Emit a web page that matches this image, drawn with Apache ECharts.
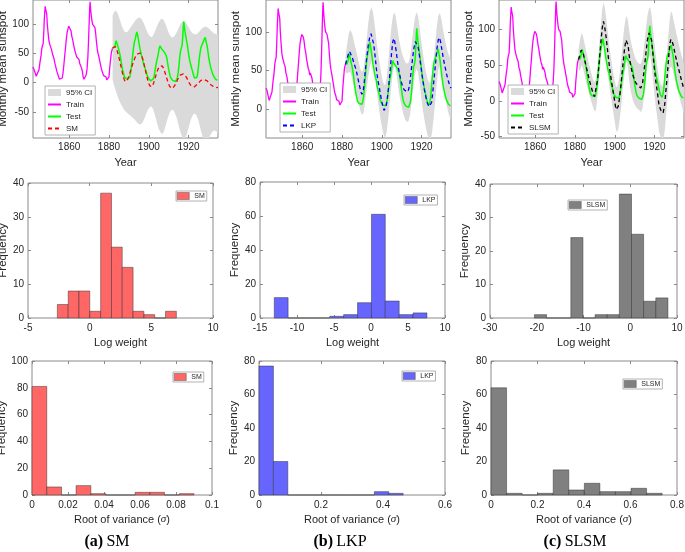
<!DOCTYPE html>
<html><head><meta charset="utf-8">
<script src="https://cdn.jsdelivr.net/npm/echarts@6/dist/echarts.min.js"></script>
<style>html,body{margin:0;padding:0;background:#fff}#c{width:685px;height:552px}</style>
</head><body><div id="c"></div>
<script>
// ---------------- DATA ----------------
const trainData = [[1841.8,27],[1842.3,24],[1842.8,18],[1843.4,11],[1843.9,10],[1844.3,13],[1844.8,22],[1845.3,35],[1845.8,45],[1846.2,58],[1846.5,63],[1846.9,67],[1847.2,85],[1847.5,110],[1847.9,131],[1848.1,127],[1848.4,125],[1848.7,118],[1849.0,100],[1849.4,85],[1849.8,72],[1850.2,66],[1850.6,64],[1851.0,58],[1851.4,55],[1851.8,47],[1852.3,42],[1852.7,35],[1853.2,28],[1853.6,22],[1854.1,16],[1854.6,11],[1855.1,6],[1855.6,4],[1856.0,4],[1856.5,8],[1856.9,17],[1857.3,30],[1857.7,45],[1858.1,58],[1858.5,73],[1858.9,85],[1859.4,93],[1859.8,97],[1860.1,97],[1860.5,94],[1860.9,89],[1861.3,80],[1861.8,73],[1862.2,65],[1862.6,59],[1863.0,53],[1863.4,50],[1863.8,44],[1864.1,47],[1864.5,46],[1864.9,40],[1865.3,33],[1865.8,32],[1866.2,25],[1866.6,20],[1867.0,10],[1867.4,6],[1867.8,6],[1868.2,9],[1868.6,14],[1869.0,25],[1869.4,45],[1869.7,70],[1870.0,100],[1870.3,128],[1870.5,139],[1870.8,125],[1871.1,115],[1871.5,105],[1871.8,100],[1872.2,100],[1872.5,97],[1872.9,95],[1873.3,85],[1873.7,70],[1874.1,58],[1874.5,50],[1874.9,45],[1875.3,38],[1875.7,32],[1876.1,25],[1876.5,20],[1876.9,17],[1877.3,12],[1877.7,11],[1878.1,13],[1878.5,10],[1878.9,5],[1879.3,4],[1879.7,5],[1880.0,10],[1880.4,27],[1880.8,40],[1881.2,52],[1881.6,57],[1881.8,59]];

const testData = [[1881.8,59],[1882.1,62],[1882.4,58],[1882.7,56],[1883.0,62],[1883.3,68],[1883.6,72],[1883.9,74],[1884.2,70],[1884.5,62],[1884.8,58],[1885.1,55],[1885.4,50],[1885.7,45],[1886.0,38],[1886.3,32],[1886.6,26],[1887.0,20],[1887.4,15],[1887.8,10],[1888.2,8],[1888.6,7],[1889.0,6],[1889.5,5],[1890.0,6],[1890.4,9],[1890.8,15],[1891.2,25],[1891.6,38],[1892.0,50],[1892.4,62],[1892.8,70],[1893.2,75],[1893.6,82],[1894.0,87],[1894.3,85],[1894.6,78],[1894.9,72],[1895.2,66],[1895.6,58],[1896.0,52],[1896.4,46],[1896.8,41],[1897.2,38],[1897.6,30],[1898.0,26],[1898.4,24],[1898.8,18],[1899.2,12],[1899.6,9],[1900.0,7],[1900.5,5],[1901.0,3],[1901.5,3],[1902.0,4],[1902.4,7],[1902.8,13],[1903.2,22],[1903.6,30],[1904.0,38],[1904.4,43],[1904.8,50],[1905.2,58],[1905.6,63],[1905.9,60],[1906.2,62],[1906.5,58],[1906.8,60],[1907.1,56],[1907.5,55],[1907.9,52],[1908.3,50],[1908.7,47],[1909.1,42],[1909.5,33],[1909.9,25],[1910.3,18],[1910.7,12],[1911.1,8],[1911.5,6],[1912.0,4],[1912.5,3],[1913.0,2],[1913.5,2],[1914.0,4],[1914.4,9],[1914.8,18],[1915.2,30],[1915.6,45],[1916.0,55],[1916.4,58],[1916.8,65],[1917.1,80],[1917.4,98],[1917.6,105],[1917.9,96],[1918.2,88],[1918.6,80],[1919.0,72],[1919.4,64],[1919.8,55],[1920.2,45],[1920.6,38],[1921.0,32],[1921.4,27],[1921.8,22],[1922.2,17],[1922.6,12],[1923.0,8],[1923.4,6],[1923.8,5],[1924.2,9],[1924.6,16],[1925.0,28],[1925.4,42],[1925.8,52],[1926.2,60],[1926.6,64],[1927.0,67],[1927.4,70],[1927.8,74],[1928.1,76],[1928.4,78],[1928.7,72],[1929.0,68],[1929.4,62],[1929.8,52],[1930.2,42],[1930.6,35],[1931.0,28],[1931.5,22],[1932.0,16],[1932.5,12],[1933.0,9],[1933.5,6],[1934.0,4],[1934.5,4],[1934.8,4]];

const smPred = [[1881.8,60],[1882.5,62],[1883.2,62],[1884,56],[1884.8,46],[1885.5,36],[1886.3,24],[1887,13],[1887.6,6],[1888.1,2],[1888.7,2],[1889.3,5],[1890,11],[1890.8,20],[1891.6,29],[1892.4,37],[1893.2,44],[1894,49],[1894.8,51],[1895.6,51],[1896.4,47],[1897.2,38],[1898,26],[1898.8,14],[1899.6,3],[1900.4,-5],[1901,-8],[1901.6,-7],[1902.3,-2],[1903,6],[1903.8,15],[1904.6,23],[1905.4,28],[1906,30],[1906.7,29],[1907.4,25],[1908.2,17],[1909,8],[1909.8,-1],[1910.6,-7],[1911.3,-10],[1912,-10],[1912.7,-7],[1913.4,-3],[1914.2,3],[1915,9],[1915.8,13],[1916.6,15],[1917.4,15],[1918.2,13],[1919,9],[1919.8,3],[1920.6,-2],[1921.4,-6],[1922.2,-8],[1923,-7],[1923.8,-5],[1924.6,-2],[1925.4,1],[1926.2,4],[1927,5],[1927.8,5.5],[1928.6,5],[1929.4,3],[1930.2,0],[1931,-3],[1931.8,-5],[1932.6,-7],[1933.4,-8],[1934.2,-8.5],[1934.8,-8]];

const lkpPred = [[1881.8,58],[1882.5,65],[1883.3,72],[1883.8,75],[1884.5,74],[1885.3,66],[1886.2,58],[1887.1,51],[1888,40],[1888.8,30],[1889.5,22],[1890,19],[1890.6,22],[1891.2,35],[1891.8,52],[1892.5,68],[1893.2,83],[1893.9,93],[1894.6,98],[1895.2,96],[1895.9,85],[1896.6,70],[1897.3,52],[1898,38],[1898.8,27],[1899.6,15],[1900.4,5],[1901.1,-2],[1901.5,-3],[1902.1,2],[1902.8,14],[1903.5,30],[1904.2,50],[1904.9,72],[1905.5,87],[1906,92],[1906.5,88],[1907.2,76],[1908,60],[1908.8,47],[1909.6,37],[1910.4,30],[1911.2,25],[1912,23],[1912.8,22],[1913.5,25],[1914.2,35],[1914.8,50],[1915.5,66],[1916.2,80],[1916.9,88],[1917.6,89],[1918.3,80],[1919,68],[1919.8,53],[1920.6,38],[1921.4,25],[1922.2,15],[1923,7],[1923.7,3],[1924.3,2],[1925,8],[1925.6,20],[1926.3,40],[1927,58],[1927.7,78],[1928.4,90],[1929,93],[1929.6,87],[1930.3,76],[1931,65],[1931.8,55],[1932.6,45],[1933.4,37],[1934.2,30],[1934.8,27]];

const slsmPred = [[1881.8,58],[1882.4,63],[1883.1,71],[1883.5,73],[1884,68],[1884.8,58],[1885.6,48],[1886.4,39],[1887.2,29],[1888.1,20],[1889,11],[1889.8,6],[1890.5,8],[1891.4,30],[1892.3,58],[1893.1,85],[1893.7,102],[1894.3,111],[1894.9,104],[1895.6,90],[1896.4,70],[1897.3,48],[1898.2,30],[1899,16],[1899.8,2],[1900.6,-12],[1901.1,-13],[1901.7,-8],[1902.3,2],[1903.1,22],[1904,48],[1904.8,70],[1905.6,85],[1906.1,86],[1906.7,78],[1907.3,62],[1908.1,48],[1909,37],[1909.8,30],[1910.6,25],[1911.4,22],[1912.3,20],[1913.1,18],[1914,25],[1914.8,44],[1915.6,65],[1916.4,85],[1917.2,95],[1917.8,97],[1918.5,85],[1919.2,65],[1919.8,48],[1920.6,28],[1921.5,10],[1922.3,-7],[1923.3,-14],[1924.3,-17],[1925.1,-5],[1925.9,20],[1926.8,50],[1927.6,79],[1928.2,86],[1928.6,86],[1929.2,80],[1930,70],[1930.6,62],[1931.6,50],[1932.6,39],[1933.5,29],[1934.4,20],[1934.8,17]];

const smUpper = [[1881.8,115],[1882.6,122],[1883.5,124],[1884.5,118],[1885.5,108],[1886.5,97],[1887.5,89],[1888.5,86],[1889.5,88],[1890.5,93],[1891.5,98],[1892.5,103],[1893.5,108],[1894.5,111],[1895.5,112],[1896.5,109],[1897.5,102],[1898.5,93],[1899.5,85],[1900.5,80],[1901.3,78],[1902,80],[1903,87],[1904,96],[1905,104],[1906,109],[1906.8,110],[1907.6,107],[1908.5,100],[1909.5,90],[1910.5,82],[1911.5,78],[1912.3,78],[1913,80],[1914,86],[1915,94],[1916,101],[1917,105],[1918,105],[1919,101],[1920,95],[1921,89],[1922,85],[1923,83],[1924,83],[1925,86],[1926,90],[1927,94],[1928,96],[1929,96],[1930,94],[1931,90],[1932,87],[1933,84],[1934,83],[1934.8,83]];
const smLower = [[1881.8,5],[1882.6,-5],[1883.5,-15],[1884.5,-25],[1885.5,-33],[1886.5,-40],[1887.5,-46],[1888.5,-50],[1889.5,-53],[1890.5,-56],[1891.5,-59],[1892.5,-62],[1893.5,-66],[1894.5,-70],[1895.5,-72],[1896.5,-70],[1897.5,-64],[1898.5,-55],[1899.5,-47],[1900.5,-42],[1901.3,-41],[1902,-44],[1903,-54],[1904,-67],[1905,-79],[1906,-86],[1906.8,-88],[1907.6,-84],[1908.5,-74],[1909.5,-61],[1910.5,-51],[1911.5,-47],[1912.3,-47],[1913,-51],[1914,-60],[1915,-73],[1916,-86],[1917,-95],[1918,-97],[1919,-90],[1920,-78],[1921,-65],[1922,-56],[1923,-53],[1924,-56],[1925,-66],[1926,-79],[1927,-92],[1928,-99],[1929,-100],[1930,-97],[1931,-90],[1932,-84],[1933,-82],[1934,-84],[1934.8,-87]];

const lkpUpper = [[1881.8,68],[1882.6,85],[1883.5,100],[1884.3,103],[1885.2,97],[1886.2,86],[1887.2,75],[1888.2,63],[1889.2,52],[1890,48],[1890.8,52],[1891.6,68],[1892.4,90],[1893.2,112],[1894,127],[1894.8,133],[1895.6,126],[1896.4,110],[1897.2,92],[1898,75],[1898.8,62],[1899.6,48],[1900.4,37],[1901.2,31],[1901.8,32],[1902.5,42],[1903.2,60],[1904,84],[1904.8,106],[1905.6,121],[1906.3,126],[1907,120],[1907.8,106],[1908.6,92],[1909.4,81],[1910.2,72],[1911,66],[1911.8,61],[1912.6,59],[1913.4,60],[1914.2,68],[1915,84],[1915.8,103],[1916.6,118],[1917.4,126],[1918.2,122],[1919,107],[1919.8,90],[1920.6,74],[1921.4,60],[1922.2,48],[1923,39],[1923.8,34],[1924.5,35],[1925.2,44],[1926,62],[1926.8,84],[1927.6,106],[1928.4,121],[1929.2,125],[1930,117],[1930.8,104],[1931.6,92],[1932.4,82],[1933.2,74],[1934,68],[1934.8,64]];
const lkpLower = [[1881.8,48],[1882.6,46],[1883.5,48],[1884.3,47],[1885.2,38],[1886.2,28],[1887.2,20],[1888.2,10],[1889.2,-2],[1890,-8],[1890.8,-5],[1891.6,8],[1892.4,25],[1893.2,42],[1894,55],[1894.8,62],[1895.6,60],[1896.4,48],[1897.2,30],[1898,12],[1898.8,-3],[1899.6,-17],[1900.4,-28],[1901.2,-36],[1901.8,-37],[1902.5,-30],[1903.2,-14],[1904,8],[1904.8,30],[1905.6,48],[1906.3,56],[1907,52],[1907.8,38],[1908.6,22],[1909.4,10],[1910.2,0],[1911,-8],[1911.8,-14],[1912.6,-17],[1913.4,-16],[1914.2,-8],[1915,8],[1915.8,28],[1916.6,44],[1917.4,52],[1918.2,48],[1919,34],[1919.8,16],[1920.6,0],[1921.4,-14],[1922.2,-25],[1923,-34],[1923.8,-39],[1924.5,-40],[1925.2,-32],[1926,-14],[1926.8,8],[1927.6,32],[1928.4,50],[1929.2,55],[1930,47],[1930.8,34],[1931.6,20],[1932.4,8],[1933.2,-2],[1934,-10],[1934.8,-15]];

const slsmUpper = [[1881.8,72],[1882.5,85],[1883.3,95],[1884,91],[1884.8,80],[1885.6,70],[1886.4,60],[1887.2,50],[1888.1,40],[1889,30],[1889.8,26],[1890.5,30],[1891.4,52],[1892.3,82],[1893.1,110],[1893.7,128],[1894.3,137],[1894.9,132],[1895.6,118],[1896.4,98],[1897.3,76],[1898.2,57],[1899,43],[1899.8,30],[1900.6,20],[1901.1,19],[1901.7,24],[1902.3,34],[1903.1,55],[1904,82],[1904.8,104],[1905.6,117],[1906.1,118],[1906.7,111],[1907.3,97],[1908.1,83],[1909,72],[1909.8,64],[1910.6,58],[1911.4,54],[1912.3,52],[1913.1,52],[1914,60],[1914.8,78],[1915.6,100],[1916.4,119],[1917.2,129],[1917.8,131],[1918.5,120],[1919.2,101],[1919.8,84],[1920.6,64],[1921.5,46],[1922.3,30],[1923.3,22],[1924.3,20],[1925.1,32],[1925.9,57],[1926.8,87],[1927.6,114],[1928.2,124],[1928.6,125],[1929.2,118],[1930,107],[1930.6,99],[1931.6,86],[1932.6,74],[1933.5,64],[1934.4,55],[1934.8,52]];
const slsmLower = [[1881.8,44],[1882.5,42],[1883.3,50],[1884,45],[1884.8,36],[1885.6,26],[1886.4,18],[1887.2,8],[1888.1,0],[1889,-8],[1889.8,-14],[1890.5,-14],[1891.4,8],[1892.3,34],[1893.1,60],[1893.7,76],[1894.3,85],[1894.9,76],[1895.6,62],[1896.4,42],[1897.3,20],[1898.2,3],[1899,-11],[1899.8,-26],[1900.6,-40],[1901.1,-44],[1901.7,-40],[1902.3,-30],[1903.1,-11],[1904,14],[1904.8,36],[1905.6,53],[1906.1,54],[1906.7,45],[1907.3,27],[1908.1,13],[1909,2],[1909.8,-4],[1910.6,-8],[1911.4,-11],[1912.3,-13],[1913.1,-16],[1914,-10],[1914.8,10],[1915.6,30],[1916.4,51],[1917.2,61],[1917.8,63],[1918.5,50],[1919.2,29],[1919.8,12],[1920.6,-8],[1921.5,-26],[1922.3,-44],[1923.3,-52],[1924.3,-56],[1925.1,-42],[1925.9,-17],[1926.8,13],[1927.6,44],[1928.2,48],[1928.6,47],[1929.2,42],[1930,33],[1930.6,25],[1931.6,14],[1932.6,4],[1933.5,-6],[1934.4,-15],[1934.8,-18]];

// histograms: bin edges and counts
const smLogEdges = [-2.62,-1.74,-0.87,0.01,0.89,1.77,2.64,3.52,4.40,5.27,6.15,7.03];
const smLogCounts = [4,8,8,2,37,21,15,2,1,0,2];
const lkpLogEdges = [-13.07,-11.20,-9.32,-7.45,-5.57,-3.70,-1.82,0.06,1.93,3.81,5.68,7.56];
const lkpLogCounts = [12,0,0,0,1,2,9,61,10,2,3];
const slsmLogEdges = [-20.50,-17.90,-15.31,-12.71,-10.12,-7.52,-4.92,-2.33,0.27,2.86,5.46,8.06];
const slsmLogCounts = [1,0,0,24,0,1,1,37,25,5,6];
const smSigEdges = [0,0.0082,0.0164,0.0245,0.0327,0.0409,0.0491,0.0573,0.0655,0.0736,0.0818,0.09];
const smSigCounts = [81,6,0,7,1,0,0,2,2,0,1];
const lkpSigEdges = [0,0.0465,0.093,0.1395,0.186,0.2325,0.279,0.3255,0.372,0.4185,0.465];
const lkpSigCounts = [77,20,0,0,0,0,0,0,2,1];
const slsmSigEdges = [0,0.0669,0.1338,0.2007,0.2676,0.3345,0.4015,0.4684,0.5353,0.6022,0.6691,0.736];
const slsmSigCounts = [64,1,0,1,15,3,7,2,2,4,1];

// tick labels
const yearTicks = [1860,1880,1900,1920];
const sunTicksA = [-50,0,50,100], sunTicksB = [0,50,100], sunTicksC = [-50,0,50,100];

// ---------------- BUILD ----------------
const FONT = '"Liberation Sans", Arial, Helvetica, sans-serif';
const SERIF = '"Liberation Serif", "Times New Roman", serif';
const TXT = '#262626';
const BOX = '#8a8a8a';
const option = {animation:false, backgroundColor:'#ffffff', grid:[], xAxis:[], yAxis:[], series:[], legend:[], graphic:[]};
const fmt = v => String(v);

function panel(c) {
  const gi = option.grid.length;
  option.grid.push({left:c.r[0], top:c.r[1], width:c.r[2], height:c.r[3], show:true, borderColor:BOX, borderWidth:1,
    backgroundColor:'rgba(0,0,0,0)', containLabel:false, outerBoundsMode:'none'});
  const tick = {show:true, inside:true, length:3, lineStyle:{color:BOX, width:1}};
  const noLine = {show:false, onZero:false};
  const xi = option.xAxis.length;
  option.xAxis.push({type:'value', gridIndex:gi, min:c.x[0], max:c.x[1], position:'bottom',
    axisLine:noLine, splitLine:{show:false},
    axisTick:Object.assign({customValues:c.xt}, tick),
    axisLabel:{customValues:c.xt, formatter:fmt, color:TXT, fontSize:10, fontFamily:FONT, margin:c.xm},
    name:c.xn, nameLocation:'middle', nameGap:c.xg,
    nameTextStyle:Object.assign({color:TXT, fontSize:11, fontFamily:FONT}, c.xrich ? {rich:c.xrich} : {})});
  option.xAxis.push({type:'value', gridIndex:gi, min:c.x[0], max:c.x[1], position:'top',
    axisLine:noLine, splitLine:{show:false}, axisTick:Object.assign({customValues:c.xt}, tick), axisLabel:{show:false}});
  const yi = option.yAxis.length;
  option.yAxis.push({type:'value', gridIndex:gi, min:c.y[0], max:c.y[1], position:'left',
    axisLine:noLine, splitLine:{show:false},
    axisTick:Object.assign({customValues:c.yt}, tick),
    axisLabel:{customValues:c.yt, formatter:fmt, color:TXT, fontSize:10, fontFamily:FONT, margin:4},
    name:c.yn, nameLocation:'middle', nameGap:c.yg, nameTextStyle:{color:TXT, fontSize:11.5, fontFamily:FONT}});
  option.yAxis.push({type:'value', gridIndex:gi, min:c.y[0], max:c.y[1], position:'right',
    axisLine:noLine, splitLine:{show:false}, axisTick:Object.assign({customValues:c.yt}, tick), axisLabel:{show:false}});
  return {xAxisIndex:xi, yAxisIndex:yi};
}

function band(ax, upper, lower) {
  option.series.push(Object.assign({type:'custom', name:'95% CI', clip:true, silent:true, z:1,
    itemStyle:{color:'#dadada'}, data:[[upper[0][0], upper[0][1]]],
    renderItem:(params, api) => {
      const pts = upper.map(p => api.coord(p)).concat(lower.slice().reverse().map(p => api.coord(p)));
      return {type:'polygon', shape:{points:pts}, style:{fill:'#dadada'}};
    }}, ax));
}
function line(ax, name, data, color, dashed, width) {
  option.series.push(Object.assign({type:'line', name:name, data:data, showSymbol:false, symbol:'none', z:dashed ? 4 : 3,
    clip:true, silent:true, lineStyle:{color:color, width:width, type:dashed ? [4,3] : 'solid'}, itemStyle:{color:color}}, ax));
}
function hist(ax, name, edges, counts, color) {
  option.series.push(Object.assign({type:'custom', name:name, silent:true, z:2,
    itemStyle:{color:color},
    data:counts.map((c, i) => [edges[i], edges[i+1], c]),
    encode:{x:[0,1], y:2},
    renderItem:(params, api) => {
      const p0 = api.coord([api.value(0), api.value(2)]);
      const p1 = api.coord([api.value(1), 0]);
      return {type:'rect', shape:{x:p0[0], y:p0[1], width:p1[0]-p0[0], height:p1[1]-p0[1]},
        style:{fill:color, stroke:'rgba(40,40,40,0.75)', lineWidth:0.6}};
    }}, ax));
}
function topLegend(left, top, predName) {
  option.legend.push({left:left, top:top, orient:'vertical', padding:[2,3,2,2], itemGap:3, itemWidth:13, itemHeight:7,
    itemTextGap:3, backgroundColor:'#ffffff', borderColor:'#a0a0a0', borderWidth:0.8, selectedMode:false,
    textStyle:{fontSize:8, fontFamily:FONT, color:TXT, lineHeight:9},
    itemStyle:{color:'rgba(0,0,0,0)', borderWidth:0},
    data:[{name:'95% CI', icon:'rect', itemStyle:{color:'#dadada'}}, 'Train', 'Test', predName],
    formatter:n => n.trim()});
}
function histLegend(left, top, name, color) {
  option.legend.push({left:left, top:top, orient:'vertical', padding:[1,2,1,1], itemWidth:12, itemHeight:7,
    itemTextGap:2, backgroundColor:'#ffffff', borderColor:'#a0a0a0', borderWidth:0.8, selectedMode:false,
    textStyle:{fontSize:7, fontFamily:FONT, color:TXT, lineHeight:8},
    data:[{name:name, icon:'rect', itemStyle:{color:color, borderColor:'#555', borderWidth:0.5}}],
    formatter:n => n.trim()});
}

const yearRange = [1841.8, 1934.8];
// ---- top row
const tA = panel({r:[33,0,185,138], x:yearRange, xt:yearTicks, xm:4, xn:'Year', xg:19, y:[-95,142], yt:sunTicksA, yn:'Monthly mean sunspot', yg:21});
band(tA, smUpper, smLower);
line(tA, 'Train', trainData, '#ff00ff', false, 1.3);
line(tA, 'Test', testData, '#00ff00', false, 1.5);
line(tA, 'SM', smPred, '#ff0000', true, 1.3);
topLegend(45, 86, 'SM');

const tB = panel({r:[266,0,185,138], x:yearRange, xt:yearTicks, xm:4, xn:'Year', xg:19, y:[-38,142], yt:sunTicksB, yn:'Monthly mean sunspot', yg:23});
band(tB, lkpUpper, lkpLower);
line(tB, 'Train', trainData, '#ff00ff', false, 1.3);
line(tB, 'Test', testData, '#00ff00', false, 1.5);
line(tB, 'LKP', lkpPred, '#0000ff', true, 1.3);
topLegend(280, 83, 'LKP');

const tC = panel({r:[499,0,185,138], x:yearRange, xt:yearTicks, xm:4, xn:'Year', xg:19, y:[-52,141], yt:sunTicksC, yn:'Monthly mean sunspot', yg:23});
band(tC, slsmUpper, slsmLower);
line(tC, 'Train', trainData, '#ff00ff', false, 1.3);
line(tC, 'Test', testData, '#00ff00', false, 1.5);
line(tC, 'SLSM', slsmPred, '#000000', true, 1.3);
topLegend(508, 85, 'SLSM');

// ---- middle row
const mA = panel({r:[28,183,185,135], x:[-5,10], xt:[-5,0,5,10], xm:5, xn:'Log weight', xg:19, y:[0,40], yt:[0,10,20,30,40], yn:'Frequency', yg:16});
hist(mA, 'SM ', smLogEdges, smLogCounts, '#ff6666');
histLegend(176, 191, 'SM ', '#ff6666');
const mB = panel({r:[260,182,185,136], x:[-15,10], xt:[-15,-10,-5,0,5,10], xm:5, xn:'Log weight', xg:19, y:[0,80], yt:[0,20,40,60,80], yn:'Frequency', yg:17});
hist(mB, 'LKP ', lkpLogEdges, lkpLogCounts, '#6666ff');
histLegend(404, 195, 'LKP ', '#6666ff');
const mC = panel({r:[490,184,187,134], x:[-30,10], xt:[-30,-20,-10,0,10], xm:5, xn:'Log weight', xg:19, y:[0,40], yt:[0,10,20,30,40], yn:'Frequency', yg:16});
hist(mC, 'SLSM ', slsmLogEdges, slsmLogCounts, '#808080');
histLegend(568, 200, 'SLSM ', '#808080');

// ---- bottom row
const sigRich = {n:{fontSize:11, fontFamily:FONT, color:TXT}, s:{fontSize:11, fontFamily:SERIF, fontStyle:'italic', color:TXT}};
const sigName = '{n|Root of variance (}{s|σ}{n|)}';
const bA = panel({r:[32,361,180,134], x:[0,0.1], xt:[0,0.02,0.04,0.06,0.08,0.1], xm:5, xn:sigName, xrich:sigRich, xg:19, y:[0,100], yt:[0,20,40,60,80,100], yn:'Frequency', yg:21});
hist(bA, 'SM  ', smSigEdges, smSigCounts, '#ff6666');
histLegend(173, 372, 'SM  ', '#ff6666');
const bB = panel({r:[259,361,186,134], x:[0,0.6], xt:[0,0.2,0.4,0.6], xm:5, xn:sigName, xrich:sigRich, xg:19, y:[0,80], yt:[0,20,40,60,80], yn:'Frequency', yg:16});
hist(bB, 'LKP  ', lkpSigEdges, lkpSigCounts, '#6666ff');
histLegend(402, 371, 'LKP  ', '#6666ff');
const bC = panel({r:[491,361,186,134], x:[0,0.8], xt:[0,0.2,0.4,0.6,0.8], xm:5, xn:sigName, xrich:sigRich, xg:19, y:[0,80], yt:[0,20,40,60,80], yn:'Frequency', yg:18});
hist(bC, 'SLSM  ', slsmSigEdges, slsmSigCounts, '#808080');
histLegend(623, 379, 'SLSM  ', '#808080');

// ---- captions
const capRich = {b:{fontFamily:SERIF, fontWeight:'bold', fontSize:16, fill:'#000', color:'#000'}, r:{fontFamily:SERIF, fontSize:16, fill:'#000', color:'#000'}};
[['(a)','SM',107],['(b)','LKP',340],['(c)','SLSM',575]].forEach(c => {
  option.graphic.push({type:'text', x:c[2], y:541.5, silent:true,
    style:{text:'{b|' + c[0] + '} {r|' + c[1] + '}', rich:capRich, align:'center', verticalAlign:'middle', textAlign:'center', textVerticalAlign:'middle'}});
});

const chart = echarts.init(document.getElementById('c'), null, {renderer:'canvas'});
chart.setOption(option);
</script></body></html>
